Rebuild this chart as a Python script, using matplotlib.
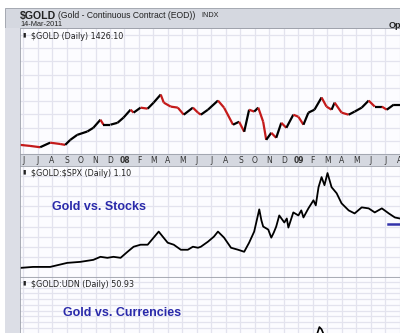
import matplotlib
matplotlib.use("Agg")
import matplotlib.pyplot as plt
import numpy as np
from matplotlib.collections import LineCollection
from matplotlib.patches import Rectangle

# x = months counted from Jan 2007 (12 = Jan 2008, 24 = Jan 2009)
gold_months = [4.79, 5.48, 6.18, 6.87, 7.56, 7.91, 8.26, 8.74, 9.44, 9.85,
               10.34, 10.55, 11.03, 11.52, 11.93, 12.42, 12.63, 13.11, 13.60, 14.01,
               14.50, 14.71, 15.19, 15.68, 16.09, 16.72, 17.07, 17.27, 17.76, 18.45,
               18.87, 19.49, 19.91, 20.26, 20.60, 20.95, 21.23, 21.57, 21.78, 22.13,
               22.47, 22.82, 23.17, 23.65, 24.00, 24.35, 24.69, 25.11, 25.60, 25.94,
               26.29, 26.50, 26.98, 27.47, 27.88, 28.37, 28.85, 29.27, 29.76, 30.10,
               30.59, 31.00]
gold_close = [650, 643, 634, 665, 656, 650, 684, 718, 741, 766,
              821, 787, 787, 800, 835, 889, 869, 903, 896, 937,
              992, 937, 910, 903, 855, 903, 869, 855, 889, 951,
              903, 787, 807, 739, 889, 876, 903, 807, 684, 732,
              698, 800, 766, 855, 841, 787, 869, 889, 972, 910,
              889, 937, 869, 855, 876, 903, 951, 910, 910, 889,
              924, 924]

spx_months = [4.79, 5.69, 6.87, 8.05, 8.95, 9.85, 10.34, 10.82, 11.24, 11.73,
              12.21, 12.63, 13.11, 13.60, 14.01, 14.36, 14.64, 14.98, 15.40, 15.89,
              16.37, 16.72, 17.07, 17.27, 17.76, 18.17, 18.45, 18.87, 19.35, 19.84,
              20.26, 20.60, 20.95, 21.30, 21.45, 21.57, 21.92, 22.13, 22.30, 22.47,
              22.68, 23.03, 23.20, 23.31, 23.65, 24.00, 24.20, 24.35, 24.69, 25.04,
              25.20, 25.39, 25.60, 25.80, 26.01, 26.29, 26.64, 26.98, 27.47, 27.88,
              28.37, 28.85, 29.27, 29.76, 30.24, 30.66, 31.00]
gold_spx = [0.43, 0.44, 0.44, 0.48, 0.49, 0.51, 0.54, 0.53, 0.54, 0.53,
            0.59, 0.64, 0.66, 0.66, 0.73, 0.79, 0.74, 0.68, 0.66, 0.61,
            0.61, 0.64, 0.63, 0.64, 0.69, 0.74, 0.79, 0.73, 0.63, 0.61,
            0.59, 0.68, 0.79, 1.01, 0.90, 0.84, 0.81, 0.73, 0.78, 0.84,
            0.95, 0.88, 0.92, 0.83, 0.98, 0.95, 1.00, 0.93, 1.02, 1.10,
            1.05, 1.23, 1.33, 1.25, 1.37, 1.23, 1.17, 1.07, 1.00, 0.97,
            1.03, 1.02, 0.98, 1.02, 0.97, 0.93, 0.92]

support_months = [30.15, 31.3]
support_level = [0.87, 0.87]

udn_months = [25.2, 25.45, 25.6, 25.8]
gold_udn = [38.0, 40.9, 40.3, 38.5]

month_letters = "JFMAMJJASOND"
year_labels = {12: "08", 24: "09"}

W, H = 400, 333
XMIN, XMAX = 4.79, 31.15
GRID = "#e3e3ee"
BAND = "#d5d8e0"
TEXT = "#333333"
HEAD_FONT = ["Liberation Sans", "DejaVu Sans"]


def px_box(left, top, right, bottom):
    return [left / W, 1 - bottom / H, (right - left) / W, (bottom - top) / H]


fig = plt.figure(figsize=(4.0, 3.33), dpi=100)
fig.patch.set_facecolor("white")

# header strip and left frame
fig.patches.append(Rectangle((5 / W, 1 - 28 / H), 1, 20 / H, transform=fig.transFigure,
                             facecolor=BAND, edgecolor="#9a9ea8", linewidth=0.6))
fig.patches.append(Rectangle((5 / W, 0), 15 / W, 1 - 28 / H, transform=fig.transFigure,
                             facecolor="#dcdee6", edgecolor="none"))
fig.text(20 / W, 1 - 16 / H, r"\$GOLD", fontsize=7.6, fontweight="bold", color="#222222",
         va="center", family=HEAD_FONT)
fig.text(58 / W, 1 - 16 / H, "(Gold - Continuous Contract (EOD))", fontsize=6.2,
         color="#222222", va="center", family=HEAD_FONT)
fig.text(201 / W, 1 - 15.5 / H, "INDX", fontsize=5.2, color="#222222", va="center",
         family=HEAD_FONT)
fig.text(20 / W, 1 - 25 / H, "14-Mar-2011", fontsize=5.3, color="#222222", va="center",
         family=HEAD_FONT)
fig.text(389 / W, 1 - 26 / H, "Op", fontsize=6.5, fontweight="bold", color="#222222",
         va="center", family=HEAD_FONT)


def style_panel(ax, ymin, ymax, ystep):
    ax.set_xlim(XMIN, XMAX)
    ax.set_ylim(ymin, ymax)
    ax.set_facecolor("#fcfcff")
    ax.set_xticks(range(5, 32))
    ax.set_yticks(np.arange(ymin, ymax, ystep))
    ax.grid(True, color=GRID, linewidth=0.9)
    ax.set_axisbelow(True)
    ax.tick_params(length=0, labelbottom=False, labelleft=False)
    for s in ax.spines.values():
        s.set_color("#9a9ea8")
        s.set_linewidth(0.6)


def panel_label(ax, text, y):
    ax.text(0.006, y - 0.005, "▮", transform=ax.transAxes, fontsize=4.5, color="#222222",
            va="top")
    ax.text(0.03, y, text, transform=ax.transAxes, fontsize=5.8, color="#222222", va="top")


# panel 1: gold price, black up / red down
ax1 = fig.add_axes(px_box(20, 28, 402, 154))
style_panel(ax1, 588, 1444, 90)
pts = np.column_stack([gold_months, gold_close])
segs = np.stack([pts[:-1], pts[1:]], axis=1)
cols = ["black" if b >= a else "#c41a1a" for a, b in zip(gold_close[:-1], gold_close[1:])]
ax1.add_collection(LineCollection(segs, colors=cols, linewidths=1.6))
panel_label(ax1, r"\$GOLD (Daily) 1426.10", 0.97)

# month band
axb = fig.add_axes(px_box(20, 154, 402, 166))
axb.set_xlim(XMIN, XMAX)
axb.set_ylim(0, 1)
axb.set_facecolor(BAND)
axb.set_xticks([])
axb.set_yticks([])
for s in axb.spines.values():
    s.set_color("#9a9ea8")
    s.set_linewidth(0.6)
for m in range(5, 32):
    if m in year_labels:
        axb.text(m, 0.45, year_labels[m], ha="center", va="center", fontsize=5.5,
                 fontweight="bold", color=TEXT)
    else:
        axb.text(m, 0.45, month_letters[m % 12], ha="center", va="center", fontsize=5.5,
                 color=TEXT)

# panel 2: gold vs S&P 500
ax2 = fig.add_axes(px_box(20, 166, 402, 277))
style_panel(ax2, 0.34, 1.44, 0.1)
ax2.plot(spx_months, gold_spx, color="black", linewidth=1.3)
ax2.plot(support_months, support_level, color="#3333aa", linewidth=1.8)
panel_label(ax2, r"\$GOLD:\$SPX (Daily) 1.10", 0.97)
ax2.text(52 / W, 1 - 207 / H, "Gold vs. Stocks", transform=fig.transFigure, fontsize=9,
         fontweight="bold", color="#2a2aaa", va="center", family=HEAD_FONT)

# panel 3: gold vs currencies (cut off at the bottom)
ax3 = fig.add_axes(px_box(20, 277, 402, 345))
style_panel(ax3, 36.2, 54.0, 1.5)
ax3.plot(udn_months, gold_udn, color="black", linewidth=1.2)
panel_label(ax3, r"\$GOLD:UDN (Daily) 50.93", 0.96)
ax3.text(63 / W, 1 - 313 / H, "Gold vs. Currencies", transform=fig.transFigure, fontsize=9,
         fontweight="bold", color="#2a2aaa", va="center", family=HEAD_FONT)

fig.savefig("out.png", dpi=100)
